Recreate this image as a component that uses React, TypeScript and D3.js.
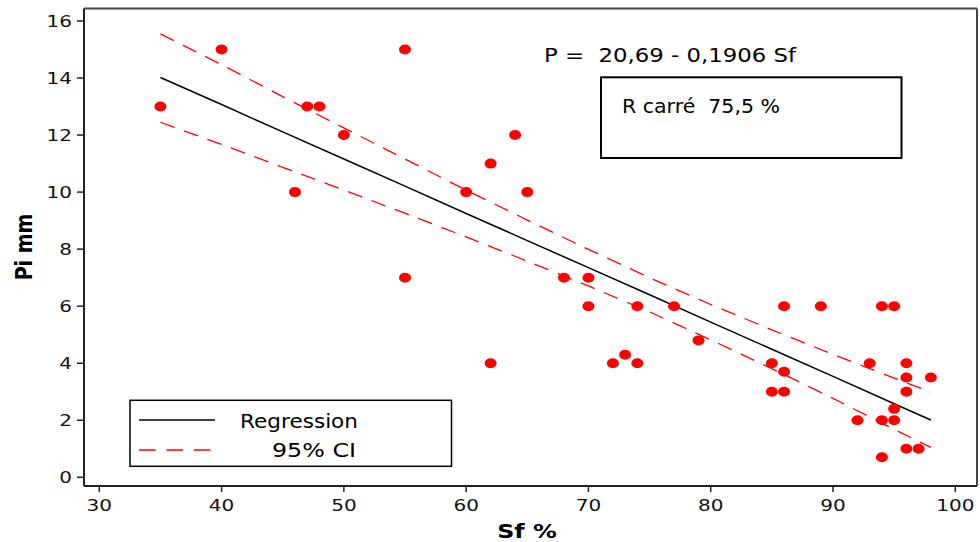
import React from "react";
import * as d3 from "d3";

// Data
const sfValues = [35, 40, 46, 47, 48, 50, 55, 55, 60, 62, 62, 64, 65, 68, 70, 70, 72, 73, 74, 74, 77, 79, 85, 85, 86, 86, 86, 89, 92, 93, 94, 95, 94, 95, 94, 95, 96, 96, 96, 96, 97, 98];
const piValues = [13, 15, 10, 13, 13, 12, 15, 7, 10, 11, 4, 12, 10, 7, 7, 6, 4, 4.3, 4, 6, 6, 4.8, 4, 3, 6, 3.7, 3, 6, 2, 4, 6, 6, 2, 2, 0.7, 2.4, 4, 3.5, 3, 1, 1, 3.5];

// Regression line and 95% CI bands (read values)
const fitX = [35, 40, 45, 50, 55, 60, 65, 70, 75, 80, 85, 90, 95, 98];
const fitY = [14.02, 13.07, 12.11, 11.16, 10.21, 9.25, 8.3, 7.35, 6.4, 5.44, 4.49, 3.54, 2.58, 2.01];
const ciUpper = [15.55, 14.47, 13.35, 12.25, 11.16, 10.07, 9.02, 7.99, 7.0, 6.06, 5.17, 4.31, 3.48, 2.99];
const ciLower = [12.45, 11.67, 10.87, 10.07, 9.26, 8.43, 7.58, 6.71, 5.8, 4.82, 3.81, 2.77, 1.68, 1.05];

const xTicks = [30, 40, 50, 60, 70, 80, 90, 100];
const yTicks = [0, 2, 4, 6, 8, 10, 12, 14, 16];

const equationText = "P =  20,69 - 0,1906 Sf";
const rSquaredText = "R carré  75,5 %";
const legendLabels = ["Regression", "95% CI"];
const xTitle = "Sf %";
const yTitle = "Pi mm";

export default function App() {
  const x = d3.scaleLinear().domain([30, 100]).range([99.3, 955.3]);
  const y = d3.scaleLinear().domain([0, 16]).range([477.3, 21]);
  const frame = { left: 84, top: 8.5, right: 977, bottom: 486 };
  const font = "'DejaVu Sans', Verdana, sans-serif";
  const sx = 1.25;
  const pre = { whiteSpace: "pre" as const };

  const line = d3
    .line<[number, number]>()
    .x((d) => x(d[0]))
    .y((d) => y(d[1]));

  const fitPath = line(fitX.map((v, i) => [v, fitY[i]]));
  const upPath = line(fitX.map((v, i) => [v, ciUpper[i]]));
  const loPath = line(fitX.map((v, i) => [v, ciLower[i]]));

  return (
    <svg
      width={980}
      height={542}
      style={{ position: "absolute", left: 0, top: 0, background: "#fff" }}
      fontFamily={font}
    >
      <rect x={0} y={0} width={980} height={542} fill="#fff" />
      {/* frame */}
      <line x1={frame.left} x2={frame.right} y1={frame.top} y2={frame.top} stroke="#444" strokeWidth={2} />
      <line x1={frame.right} x2={frame.right} y1={frame.top} y2={frame.bottom} stroke="#444" strokeWidth={2} />
      <line x1={frame.left} x2={frame.left} y1={frame.top} y2={frame.bottom} stroke="#222" strokeWidth={2} />
      <line x1={frame.left} x2={frame.right} y1={frame.bottom} y2={frame.bottom} stroke="#222" strokeWidth={2} />

      {/* y ticks */}
      {yTicks.map((t) => (
        <g key={"y" + t}>
          <line x1={77} x2={frame.left} y1={y(t)} y2={y(t)} stroke="#222" strokeWidth={1.5} />
          <text
            transform={`translate(72,${y(t) + 6}) scale(${sx},1)`}
            textAnchor="end"
            fontSize={16}
            fill="#111"
          >
            {t}
          </text>
        </g>
      ))}
      {/* x ticks */}
      {xTicks.map((t) => (
        <g key={"x" + t}>
          <line x1={x(t)} x2={x(t)} y1={frame.bottom} y2={492} stroke="#222" strokeWidth={1.5} />
          <text
            transform={`translate(${x(t)},510.5) scale(${sx},1)`}
            textAnchor="middle"
            fontSize={16}
            fill="#111"
          >
            {t}
          </text>
        </g>
      ))}

      {/* axis titles */}
      <text
        transform={`translate(32,247) scale(${sx},1) rotate(-90)`}
        textAnchor="middle"
        fontSize={19}
        fontWeight="bold"
        fill="#000"
      >
        {yTitle}
      </text>
      <text
        transform={`translate(527,538) scale(${sx},1)`}
        textAnchor="middle"
        fontSize={19}
        fontWeight="bold"
        fill="#000"
      >
        {xTitle}
      </text>

      {/* CI bands and regression */}
      <path d={upPath ?? ""} fill="none" stroke="#ff0000" strokeWidth={1.3} strokeDasharray="15,10" />
      <path d={loPath ?? ""} fill="none" stroke="#ff0000" strokeWidth={1.3} strokeDasharray="15,10" />
      <path d={fitPath ?? ""} fill="none" stroke="#000" strokeWidth={1.5} />

      {/* points */}
      {sfValues.map((v, i) => (
        <ellipse key={"p" + i} cx={x(v)} cy={y(piValues[i])} rx={6} ry={5} fill="#ff0000" />
      ))}

      {/* equation */}
      <text x={544} y={62.3} fontSize={20} fill="#000" style={pre} textLength={252} lengthAdjust="spacingAndGlyphs">
        {equationText}
      </text>
      <rect x={601} y={77.3} width={300.5} height={80.7} fill="none" stroke="#000" strokeWidth={2} />
      <text x={622} y={112.7} fontSize={20} fill="#000" style={pre} textLength={158} lengthAdjust="spacingAndGlyphs">
        {rSquaredText}
      </text>

      {/* legend */}
      <rect x={130} y={400.3} width={321.5} height={66} fill="#fff" stroke="#000" strokeWidth={1.5} />
      <line x1={139} x2={215} y1={420} y2={420} stroke="#000" strokeWidth={1.5} />
      <line x1={139} x2={215} y1={450} y2={450} stroke="#ff0000" strokeWidth={1.3} strokeDasharray="16.7,10.7" />
      <text x={240} y={428.3} fontSize={20} fill="#000" textLength={118} lengthAdjust="spacingAndGlyphs">
        {legendLabels[0]}
      </text>
      <text x={272} y={457.3} fontSize={20} fill="#000" textLength={84} lengthAdjust="spacingAndGlyphs">
        {legendLabels[1]}
      </text>
    </svg>
  );
}
